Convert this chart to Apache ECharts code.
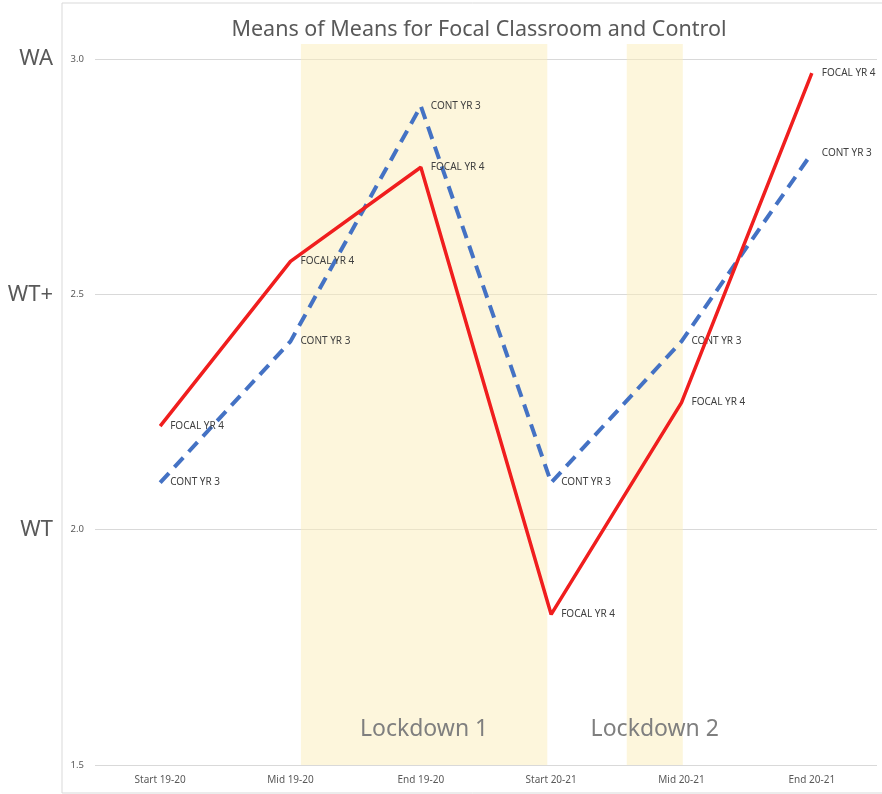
<!DOCTYPE html>
<html lang="en">
<head>
    <meta charset="UTF-8">
    <title>Means of Means</title>
    <script src="https://cdn.jsdelivr.net/npm/echarts@6/dist/echarts.min.js"></script>
    <style>
        body { margin: 0; background: #fff; }
    </style>
</head>
<body>
<div id="main" style="width: 882px;height:794px;"></div>
<script type="text/javascript">
    // categories and values
    const categories = ["Start 19-20", "Mid 19-20", "End 19-20", "Start 20-21", "Mid 20-21", "End 20-21"];
    const focal = [2.22, 2.57, 2.77, 1.82, 2.27, 2.97];
    const control = [2.10, 2.40, 2.90, 2.10, 2.40, 2.80];
    const yTicks = [1.5, 2.0, 2.5, 3.0];
    const levelLabels = ["", "WT", "WT+", "WA"];
    // lockdown periods, in category index units
    const lockdownNames = ["Lockdown 1", "Lockdown 2"];
    const lockdownFrom = [1.08, 3.58];
    const lockdownTo = [2.97, 4.01];

    const grey = "#595959";
    const font = "Noto Sans";

    const myChart = echarts.init(document.getElementById('main'));

    const bands = lockdownNames.map(function (name, i) {
        return [
            {name: name, xAxis: lockdownFrom[i]},
            {xAxis: lockdownTo[i]}
        ];
    });

    myChart.setOption({
        textStyle: {fontFamily: font},
        title: {
            text: "Means of Means for Focal Classroom and Control",
            left: 474,
            textAlign: "center",
            top: 14,
            textStyle: {fontSize: 21.5, fontWeight: "normal", color: grey, fontFamily: font}
        },
        graphic: [{
            type: "rect",
            shape: {x: 62, y: 3, width: 840, height: 790},
            style: {fill: null, stroke: "#d9d9d9", lineWidth: 1},
            silent: true
        }],
        grid: [
            {left: 95, right: 5, top: 59, bottom: 29},
            {left: 95, right: 5, top: 44, bottom: 29}
        ],
        xAxis: [
            {
                type: "category",
                gridIndex: 0,
                data: categories,
                boundaryGap: true,
                axisLine: {show: false},
                axisTick: {show: false},
                axisLabel: {fontSize: 10, color: grey, margin: 10}
            },
            {
                type: "value",
                gridIndex: 1,
                min: -0.5,
                max: 5.5,
                show: false
            }
        ],
        yAxis: [
            {
                type: "value",
                gridIndex: 0,
                min: yTicks[0],
                max: yTicks[yTicks.length - 1],
                interval: 0.5,
                axisLine: {show: false},
                axisTick: {show: false},
                axisLabel: {
                    fontSize: 9.5,
                    color: grey,
                    margin: 11,
                    formatter: function (v) { return v.toFixed(1); }
                },
                splitLine: {lineStyle: {color: "#d9d9d9", width: 1}}
            },
            {
                type: "value",
                gridIndex: 1,
                min: 0,
                max: 1,
                show: false
            },
            {
                type: "value",
                gridIndex: 0,
                position: "left",
                min: yTicks[0],
                max: yTicks[yTicks.length - 1],
                interval: 0.5,
                axisLine: {show: false},
                axisTick: {show: false},
                splitLine: {show: false},
                axisLabel: {
                    fontSize: 22,
                    color: grey,
                    margin: 42,
                    formatter: function (v) {
                        const i = yTicks.findIndex(function (t) { return Math.abs(t - v) < 1e-6; });
                        return i < 0 ? "" : levelLabels[i];
                    }
                }
            }
        ],
        series: [
            {
                name: "lockdown",
                type: "line",
                xAxisIndex: 1,
                yAxisIndex: 1,
                data: [],
                silent: true,
                z: 1,
                markArea: {
                    silent: true,
                    itemStyle: {color: "rgba(251,237,185,0.5)"},
                    label: {
                        show: true,
                        position: "insideBottom",
                        distance: 24,
                        fontSize: 23,
                        color: "#7f7f7f",
                        fontFamily: font
                    },
                    data: bands
                }
            },
            {
                name: "CONT YR 3",
                type: "line",
                data: control,
                symbol: "circle",
                symbolSize: 0,
                z: 3,
                lineStyle: {color: "#4472c4", width: 4, type: [13, 8]},
                itemStyle: {color: "#4472c4"},
                label: {
                    show: true,
                    position: "right",
                    distance: 10,
                    formatter: "CONT YR 3",
                    fontSize: 10,
                    color: "#404040"
                }
            },
            {
                name: "FOCAL YR 4",
                type: "line",
                data: focal,
                symbol: "circle",
                symbolSize: 0,
                z: 4,
                lineStyle: {color: "#f01e1e", width: 3.5},
                itemStyle: {color: "#f01e1e"},
                label: {
                    show: true,
                    position: "right",
                    distance: 10,
                    formatter: "FOCAL YR 4",
                    fontSize: 10,
                    color: "#404040"
                }
            }
        ]
    });
</script>
</body>
</html>
